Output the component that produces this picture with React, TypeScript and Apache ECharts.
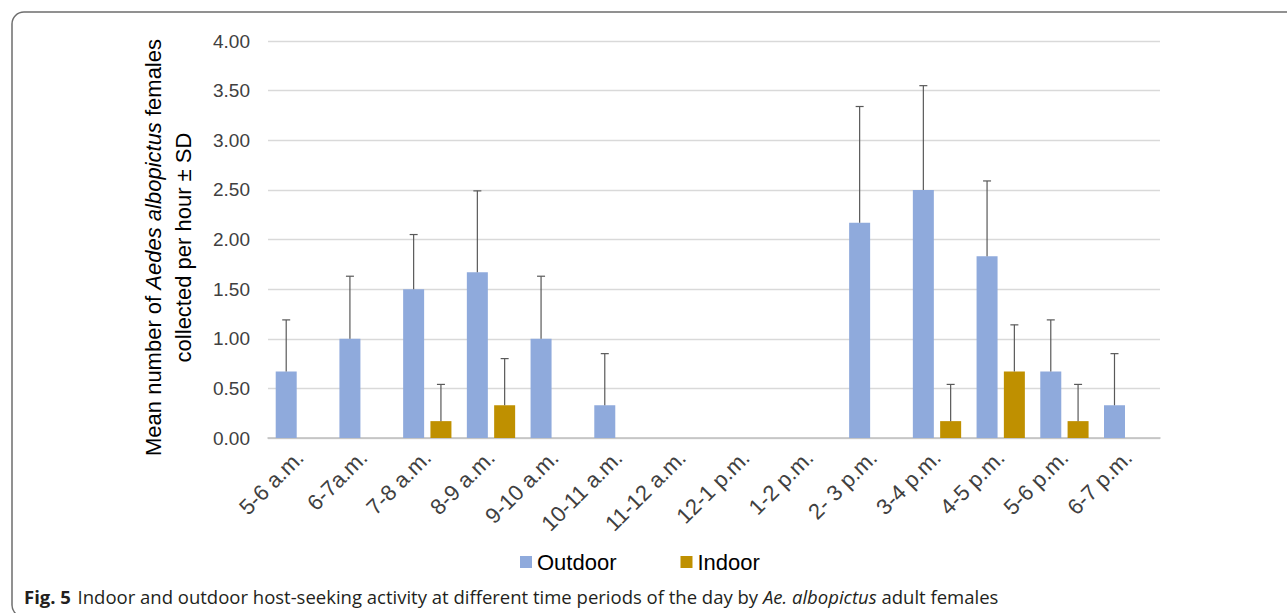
import React, { useEffect, useRef } from "react";
import * as echarts from "echarts";

const categories = [
  "5-6 a.m.", "6-7a.m.", "7-8 a.m.", "8-9 a.m.", "9-10 a.m.", "10-11 a.m.", "11-12 a.m.",
  "12-1 p.m.", "1-2 p.m.", "2- 3 p.m.", "3-4 p.m.", "4-5 p.m.", "5-6 p.m.", "6-7 p.m.",
];
const outdoorMean = [0.67, 1.0, 1.5, 1.67, 1.0, 0.33, 0, 0, 0, 2.17, 2.5, 1.83, 0.67, 0.33];
const outdoorSD = [0.52, 0.63, 0.55, 0.82, 0.63, 0.52, 0, 0, 0, 1.17, 1.05, 0.76, 0.52, 0.52];
const indoorMean = [0, 0, 0.17, 0.33, 0, 0, 0, 0, 0, 0, 0.17, 0.67, 0.17, 0];
const indoorSD = [0, 0, 0.37, 0.47, 0, 0, 0, 0, 0, 0, 0.37, 0.47, 0.37, 0];

const yMin = 0;
const yMax = 4;
const yStep = 0.5;

const OUT_COLOR = "#8FAADC";
const IN_COLOR = "#BF9000";
const BAR_W = 21;
const GAP_RATIO = 0.3;
const OFFSET = (BAR_W + BAR_W * GAP_RATIO) / 2;

function errData(means: number[], sds: number[]) {
  const out: number[][] = [];
  means.forEach((m, i) => {
    if (sds[i] > 0) out.push([i, m, sds[i]]);
  });
  return out;
}

function makeRender(offset: number) {
  return (params: any, api: any) => {
    const idx = api.value(0);
    const mean = api.value(1);
    const sd = api.value(2);
    const base = api.coord([idx, mean]);
    const top = api.coord([idx, mean + sd]);
    const x = base[0] + offset;
    const st = { stroke: "#595959", lineWidth: 1.2 };
    return {
      type: "group",
      children: [
        { type: "line", shape: { x1: x, y1: base[1], x2: x, y2: top[1] }, style: st },
        { type: "line", shape: { x1: x - 4, y1: top[1], x2: x + 4, y2: top[1] }, style: st },
      ],
    };
  };
}

export default function App() {
  const ref = useRef<HTMLDivElement>(null);
  useEffect(() => {
    document.body.style.margin = "0";
    const chart = echarts.init(ref.current!, undefined, { renderer: "svg" });
    const font = "Liberation Sans, Arial, sans-serif";
    const capFont = "Open Sans";
    const capSize = 18.5;
    chart.setOption({
      animation: false,
      backgroundColor: "#fff",
      textStyle: { fontFamily: font },
      grid: { left: 268, right: 127, top: 41, bottom: 175, containLabel: false },
      legend: {
        data: ["Outdoor", "Indoor"],
        left: 515,
        top: 545,
        icon: "rect",
        itemWidth: 12,
        itemHeight: 12,
        itemGap: 64,
        textStyle: { fontSize: 22, color: "#000", fontFamily: font, lineHeight: 24 },
      },
      xAxis: {
        type: "category",
        data: categories,
        axisLine: { lineStyle: { color: "#BFBFBF", width: 1.5 } },
        axisTick: { show: false },
        axisLabel: { interval: 0, rotate: 45, fontSize: 22, color: "#404040", margin: 16 },
      },
      yAxis: {
        type: "value",
        min: yMin,
        max: yMax,
        interval: yStep,
        axisLine: { show: false },
        axisTick: { show: false },
        splitLine: { lineStyle: { color: "#D9D9D9", width: 1.3 } },
        axisLabel: {
          fontSize: 19,
          color: "#404040",
          margin: 18,
          formatter: (v: number) => v.toFixed(2),
        },
        name: "{n|Mean number of }{i|Aedes albopictus}{n| females}\n{n|collected per hour ± SD}",
        nameLocation: "middle",
        nameRotate: 90,
        nameGap: 70,
        nameTextStyle: {
          padding: [0, 16, 0, 0],
          rich: {
            n: { fontSize: 22, color: "#000", fontFamily: font, lineHeight: 30, align: "center" },
            i: { fontSize: 22, color: "#000", fontFamily: font, fontStyle: "italic", lineHeight: 30, align: "center" },
          },
        },
      },
      series: [
        {
          name: "Outdoor",
          type: "bar",
          data: outdoorMean,
          barWidth: BAR_W,
          barGap: GAP_RATIO * 100 + "%",
          itemStyle: { color: OUT_COLOR },
        },
        {
          name: "Indoor",
          type: "bar",
          data: indoorMean,
          barWidth: BAR_W,
          barGap: GAP_RATIO * 100 + "%",
          itemStyle: { color: IN_COLOR },
        },
        {
          name: "errOut",
          type: "custom",
          data: errData(outdoorMean, outdoorSD),
          renderItem: makeRender(-OFFSET),
          encode: { x: 0, y: 1 },
          z: 5,
        },
        {
          name: "errIn",
          type: "custom",
          data: errData(indoorMean, indoorSD),
          renderItem: makeRender(OFFSET),
          encode: { x: 0, y: 1 },
          z: 5,
        },
      ],
      graphic: [
        {
          type: "rect",
          shape: { x: 12, y: 12, width: 1300, height: 605, r: 12 },
          style: { fill: "none", stroke: "#6E6E6E", lineWidth: 1.5 },
          silent: true,
        },
        {
          type: "text",
          x: 24,
          y: 596,
          style: {
            text: "{b|Fig. 5}  {n|Indoor and outdoor host-seeking activity at different time periods of the day by }{i|Ae. albopictus}{n| adult females}",
            verticalAlign: "middle",
            rich: {
              b: { fontFamily: capFont, fontSize: capSize, fontWeight: "bold", fill: "#231F20" },
              n: { fontFamily: capFont, fontSize: capSize, fill: "#231F20" },
              i: { fontFamily: capFont, fontSize: capSize, fontStyle: "italic", fill: "#231F20" },
            },
          },
        },
      ],
    });
    return () => chart.dispose();
  }, []);
  return <div ref={ref} style={{ width: 1287, height: 613 }} />;
}
